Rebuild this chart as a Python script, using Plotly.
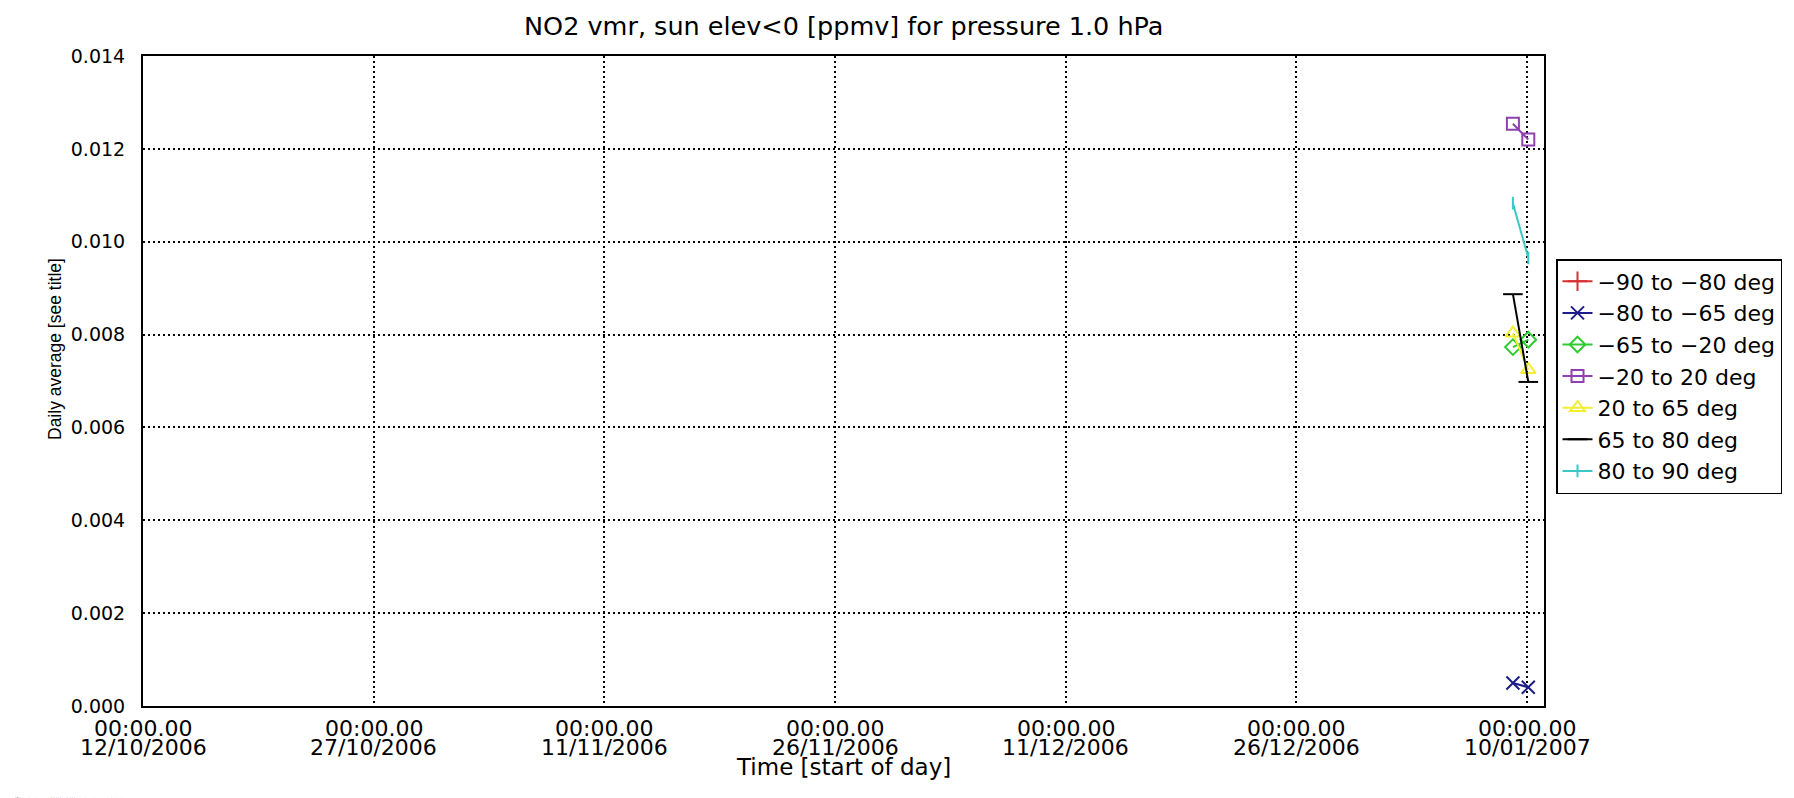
import plotly.graph_objects as go

# ---- data ----
dates = ["2007-01-09 02:00", "2007-01-10 02:00"]

series_names = ["−90 to −80 deg", "−80 to −65 deg", "−65 to −20 deg", "−20 to 20 deg",
                "20 to 65 deg", "65 to 80 deg", "80 to 90 deg"]
s_m90_m80 = [None, None]
s_m80_m65 = [0.000495, 0.000403]
s_m65_m20 = [0.00773, 0.00789]
s_m20_20 = [0.01254, 0.01220]
s_20_65 = [0.00803, 0.00724]
s_65_80 = [0.00887, 0.00698]
s_80_90 = [0.01083, 0.00965]

tick_dates = ["2006-10-12", "2006-10-27", "2006-11-11", "2006-11-26",
              "2006-12-11", "2006-12-26", "2007-01-10"]
tick_time = ["00:00.00"] * 7
tick_day = ["12/10/2006", "27/10/2006", "11/11/2006", "26/11/2006",
            "11/12/2006", "26/12/2006", "10/01/2007"]
y_ticks = [0.000, 0.002, 0.004, 0.006, 0.008, 0.010, 0.012, 0.014]

FONT = "DejaVu Sans"
W, H = 1794, 798
L, R, T, B = 135, 258, 48, 100
PW, PH = W - L - R, H - T - B


def px_x(x):
    return (x - L) / PW


def px_y(y):
    return (H - B - y) / PH


styles = [
    dict(color="#d83030", symbol="cross-thin-open", size=14),
    dict(color="#1c1c8a", symbol="x-thin-open", size=13),
    dict(color="#2ecc2e", symbol="diamond-open", size=12),
    dict(color="#9040b0", symbol="square-open", size=12),
    dict(color="#f2ee30", symbol="triangle-up-open", size=13),
    dict(color="#000000", symbol="line-ew-open", size=14),
    dict(color="#3cc8c8", symbol="line-ns-open", size=9),
]
values = [s_m90_m80, s_m80_m65, s_m65_m20, s_m20_20, s_20_65, s_65_80, s_80_90]

fig = go.Figure()
for name, vals, st in zip(series_names, values, styles):
    fig.add_trace(go.Scatter(
        x=dates, y=vals, name=name, mode="lines+markers",
        line=dict(color=st["color"], width=2),
        marker=dict(symbol=st["symbol"], size=st["size"], color=st["color"],
                    line=dict(color=st["color"], width=2)),
    ))

annotations = [
    dict(text="NO2 vmr, sun elev<0 [ppmv] for pressure 1.0 hPa", x=0.5, y=px_y(18),
         xref="paper", yref="paper", showarrow=False, yanchor="middle", font=dict(size=25.5)),
    dict(text="Time [start of day]", x=0.5, y=px_y(759), xref="paper", yref="paper",
         showarrow=False, yanchor="middle", font=dict(size=23)),
    dict(text="Daily average [see title]", x=px_x(47), y=px_y(341), xref="paper", yref="paper",
         showarrow=False, textangle=-90, xanchor="center", yanchor="middle",
         font=dict(size=17.5, family="Liberation Sans")),
    dict(text="er PT1 outside the range of 0.000 to 1.000 ppmv have been excluded in the averages.",
         x=px_x(1), y=px_y(791), xref="paper", yref="paper", showarrow=False, xanchor="left",
         yanchor="middle", font=dict(size=3)),
]
for d, t1, t2 in zip(tick_dates, tick_time, tick_day):
    annotations.append(dict(text=t1, x=d, y=px_y(720), xref="x", yref="paper", showarrow=False,
                            yanchor="middle", font=dict(size=22)))
    annotations.append(dict(text=t2, x=d, y=px_y(739), xref="x", yref="paper", showarrow=False,
                            yanchor="middle", font=dict(size=22)))

fig.update_layout(
    width=W, height=H,
    margin=dict(l=L, r=R, t=T, b=B),
    paper_bgcolor="white", plot_bgcolor="white",
    font=dict(family=FONT, color="black", size=16),
    showlegend=True,
    legend=dict(
        x=px_x(1548), y=px_y(251), xanchor="left", yanchor="top",
        bordercolor="black", borderwidth=1.5, bgcolor="white",
        font=dict(family=FONT, size=22, color="black"),
        tracegroupgap=0, itemwidth=30,
    ),
    annotations=annotations,
)

fig.update_xaxes(
    type="date", range=["2006-10-12", "2007-01-11 02:30"],
    tickvals=tick_dates, showticklabels=False,
    showgrid=True, gridcolor="black", gridwidth=1.5, griddash="2px,3px",
    showline=True, linecolor="black", linewidth=2, mirror=True,
    ticks="", zeroline=False,
)
fig.update_yaxes(
    range=[0, 0.014], tickvals=y_ticks, tickformat=".3f",
    showgrid=True, gridcolor="black", gridwidth=1.5, griddash="2px,3px",
    showline=True, linecolor="black", linewidth=2, mirror=True,
    ticks="", tickfont=dict(size=19), zeroline=False, ticklabelstandoff=12,
)

fig.write_html("out.html")
